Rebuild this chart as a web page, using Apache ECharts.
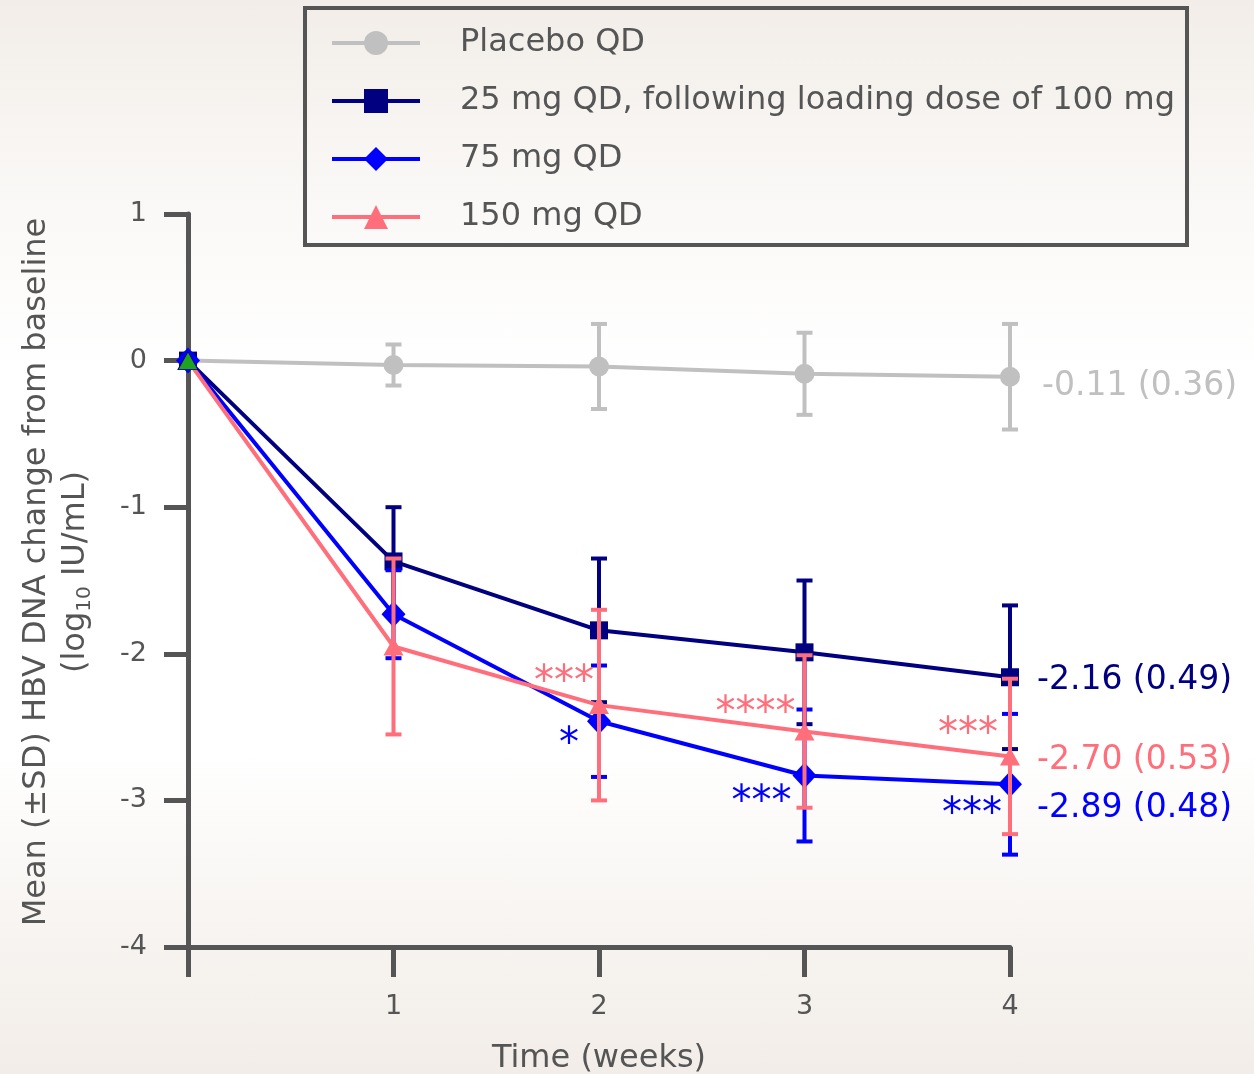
<!DOCTYPE html>
<html>
<head>
<meta charset="utf-8">
<script src="https://cdn.jsdelivr.net/npm/echarts@6/dist/echarts.min.js"></script>
<style>
  html, body { margin: 0; padding: 0; }
  body {
    width: 1254px; height: 1074px;
    background: linear-gradient(to bottom, #f2ede8 0%, #faf8f6 18%, #ffffff 35%, #ffffff 70%, #f8f5f2 85%, #f2ede8 100%);
  }
  #chart { width: 1254px; height: 1074px; }
</style>
</head>
<body>
<div id="chart"></div>
<script>
// week numbers
var weeks = [0, 1, 2, 3, 4];

// mean change from baseline and SD per group
var placeboMean = [0, -0.03, -0.04, -0.09, -0.11];
var placeboSD   = [0, 0.14, 0.29, 0.28, 0.36];
var mg25Mean  = [0, -1.37, -1.84, -1.99, -2.16];
var mg25SD    = [0, 0.37, 0.49, 0.49, 0.49];
var mg75Mean  = [0, -1.73, -2.46, -2.83, -2.89];
var mg75SD    = [0, 0.30, 0.38, 0.45, 0.48];
var mg150Mean = [0, -1.95, -2.35, -2.53, -2.70];
var mg150SD   = [0, 0.60, 0.65, 0.52, 0.53];

var groupNames = ['Placebo QD', '25 mg QD, following loading dose of 100 mg', '75 mg QD', '150 mg QD'];
var endLabels = ['-0.11 (0.36)', '-2.16 (0.49)', '-2.89 (0.48)', '-2.70 (0.53)'];
var yTicks = [-4, -3, -2, -1, 0, 1];

var FONT = '"DejaVu Sans", Verdana, sans-serif';
var AXIS = '#555555';
var colors = ['#c0c0c0', '#000080', '#0000ff', '#ff6f7b'];

(function () {
  var myChart = echarts.init(document.getElementById('chart'));

  var means = [placeboMean, mg25Mean, mg75Mean, mg150Mean];
  var sds = [placeboSD, mg25SD, mg75SD, mg150SD];
  var symbols = ['circle', 'rect', 'diamond', 'triangle'];
  var symbolSizes = [20, 18, [24, 26], [20, 18]];

  // significance stars + end labels, placed relative to data points
  var notes = [
    { s: 3, w: 2, text: '***',  dx: -35, dy: -22 },
    { s: 2, w: 2, text: '*',    dx: -30, dy: 24 },
    { s: 3, w: 3, text: '****', dx: -49, dy: -17 },
    { s: 2, w: 3, text: '***',  dx: -43, dy: 28 },
    { s: 3, w: 4, text: '***',  dx: -42, dy: -21 },
    { s: 2, w: 4, text: '***',  dx: -38, dy: 31 },
    { s: 0, w: 4, text: endLabels[0], dx: 32, dy: 10, big: true },
    { s: 1, w: 4, text: endLabels[1], dx: 27, dy: 3,  big: true },
    { s: 2, w: 4, text: endLabels[2], dx: 27, dy: 24, big: true },
    { s: 3, w: 4, text: endLabels[3], dx: 27, dy: 4,  big: true }
  ];

  var series = [];
  means.forEach(function (m, i) {
    series.push({
      name: groupNames[i],
      type: 'line',
      data: weeks.map(function (w, k) {
        var item = { value: [w, m[k]] };
        if (i === 3 && k === 0) {
          item.itemStyle = { color: '#1fa21f', borderColor: '#000080', borderWidth: 1 };
        }
        return item;
      }),
      symbol: symbols[i],
      symbolSize: symbolSizes[i],
      showAllSymbol: true,
      color: colors[i],
      lineStyle: { width: 4, color: colors[i] },
      itemStyle: { color: colors[i] },
      z: 2 + i * 2
    });
    series.push({
      type: 'custom',
      name: groupNames[i] + ' SD',
      z: 3 + i * 2,
      data: weeks.map(function (w, k) { return [w, m[k] - sds[i][k], m[k] + sds[i][k]]; }),
      renderItem: function (params, api) {
        var lo = api.coord([api.value(0), api.value(1)]);
        var hi = api.coord([api.value(0), api.value(2)]);
        if (Math.abs(lo[1] - hi[1]) < 1) return null;
        var style = { stroke: colors[i], lineWidth: 4 };
        return {
          type: 'group',
          children: [
            { type: 'line', shape: { x1: lo[0], y1: lo[1], x2: hi[0], y2: hi[1] }, style: style },
            { type: 'line', shape: { x1: lo[0] - 8, y1: lo[1], x2: lo[0] + 8, y2: lo[1] }, style: style },
            { type: 'line', shape: { x1: hi[0] - 8, y1: hi[1], x2: hi[0] + 8, y2: hi[1] }, style: style }
          ]
        };
      }
    });
  });

  series.push({
    type: 'custom',
    name: 'notes',
    z: 20,
    data: notes.map(function (n, idx) { return [n.w, means[n.s][n.w], idx]; }),
    renderItem: function (params, api) {
      var n = notes[api.value(2)];
      var p = api.coord([api.value(0), api.value(1)]);
      return {
        type: 'text',
        x: p[0] + n.dx,
        y: p[1] + n.dy,
        style: {
          text: n.text,
          fill: colors[n.s],
          font: (n.big ? '33px ' : '40px ') + FONT,
          align: n.big ? 'left' : 'center',
          verticalAlign: 'middle'
        }
      };
    }
  });

  var option = {
    animation: false,
    grid: { left: 188, right: 244, top: 214, bottom: 127, outerBoundsMode: 'none', containLabel: false },
    legend: {
      data: groupNames,
      orient: 'vertical',
      left: 330,
      top: 27,
      padding: 0,
      itemWidth: 88,
      itemHeight: 30,
      itemGap: 26,
      lineStyle: { width: 4 },
      textStyle: { fontFamily: FONT, fontSize: 32, color: AXIS, padding: [0, 0, 0, 35] }
    },
    xAxis: {
      type: 'value',
      min: 0, max: 4, interval: 1,
      name: 'Time (weeks)',
      nameLocation: 'middle',
      nameGap: 96,
      nameTextStyle: { fontFamily: FONT, fontSize: 32, color: AXIS },
      axisLine: { onZero: false, lineStyle: { color: AXIS, width: 5 } },
      axisTick: { length: 30, lineStyle: { color: AXIS, width: 5 } },
      axisLabel: {
        margin: 46, fontFamily: FONT, fontSize: 27, color: AXIS,
        formatter: function (v) { return v === 0 ? '' : v; }
      },
      splitLine: { show: false }
    },
    yAxis: {
      type: 'value',
      min: yTicks[0], max: yTicks[yTicks.length - 1], interval: 1,
      axisLine: { onZero: false, lineStyle: { color: AXIS, width: 5 } },
      axisTick: { length: 24, lineStyle: { color: AXIS, width: 5 } },
      axisLabel: { margin: 41, fontFamily: FONT, fontSize: 27, color: AXIS },
      splitLine: { show: false }
    },
    graphic: [
      {
        type: 'rect',
        shape: { x: 305, y: 8, width: 882, height: 237 },
        style: { fill: 'transparent', stroke: AXIS, lineWidth: 4 },
        z: 1
      },
      {
        type: 'text',
        x: 56, y: 572,
        rotation: Math.PI / 2,
        style: {
          text: '{a|Mean (\u00b1SD) HBV DNA change from baseline}\n{a|(log}{sub|10}{a| IU/mL)}',
          align: 'center',
          verticalAlign: 'middle',
          fill: AXIS,
          rich: {
            a: { fontFamily: FONT, fontSize: 32, fill: AXIS, lineHeight: 39 },
            sub: { fontFamily: FONT, fontSize: 20, fill: AXIS, lineHeight: 39, verticalAlign: 'bottom', padding: [12, 0, 0, 0] }
          }
        }
      }
    ],
    series: series
  };

  myChart.setOption(option);
  window.addEventListener('resize', function () { myChart.resize(); });
})();
</script>
</body>
</html>
